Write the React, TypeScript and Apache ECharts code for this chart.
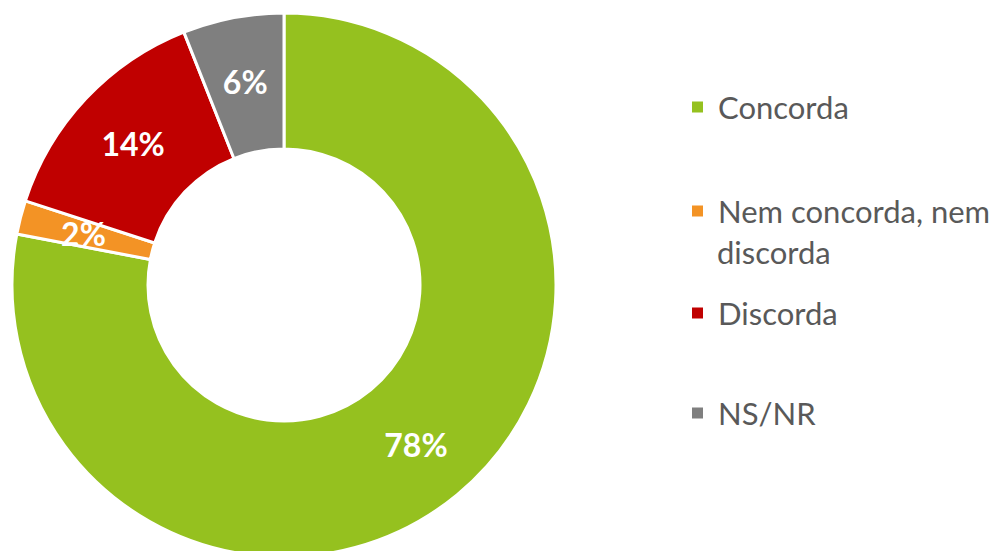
import React, { useEffect, useRef } from "react";
import * as echarts from "echarts";

const categories = ["Concorda", "Nem concorda, nem discorda", "Discorda", "NS/NR"];
const values = [78, 2, 14, 6];
const colors = ["#95C11F", "#F39325", "#C00000", "#7F7F7F"];
const legendTops = [91, 195, 297, 397];

export default function App() {
  const ref = useRef<HTMLDivElement>(null);
  useEffect(() => {
    if (!ref.current) return;
    const chart = echarts.init(ref.current, null, { renderer: "svg" });
    const fontFamily = "Lato, 'Noto Sans', sans-serif";
    chart.setOption({
      animation: false,
      color: colors,
      legend: categories.map((c, i) => ({
        data: [c],
        orient: "vertical",
        left: 690,
        top: legendTops[i],
        padding: 0,
        itemWidth: 13,
        itemHeight: 13,
        icon: "rect",
        selectedMode: false,
        formatter: (name: string) => (name === categories[1] ? "Nem concorda, nem" : name),
        textStyle: {
          fontFamily,
          fontSize: 31,
          lineHeight: 32,
          color: "#595959",
          padding: [0, 0, 0, 9],
        },
      })),
      graphic: [
        {
          type: "text",
          left: 717,
          top: legendTops[1] + 41,
          style: {
            text: "discorda",
            fontFamily,
            fontSize: 31,
            lineHeight: 32,
            fill: "#595959",
          },
        },
      ],
      series: [
        {
          type: "pie",
          center: [284, 285],
          radius: [136, 272],
          startAngle: 90,
          clockwise: true,
          itemStyle: { borderColor: "#ffffff", borderWidth: 3 },
          label: {
            show: true,
            position: "inside",
            formatter: "{c}%",
            color: "#ffffff",
            fontFamily,
            fontWeight: "bold",
            fontSize: 32,
          },
          labelLine: { show: false },
          emphasis: { disabled: true },
          data: categories.map((c, i) => ({ name: c, value: values[i] })),
        },
      ],
    });
    return () => chart.dispose();
  }, []);
  return (
    <div
      ref={ref}
      style={{ position: "fixed", left: 0, top: 0, width: 1002, height: 551, background: "#ffffff" }}
    />
  );
}
